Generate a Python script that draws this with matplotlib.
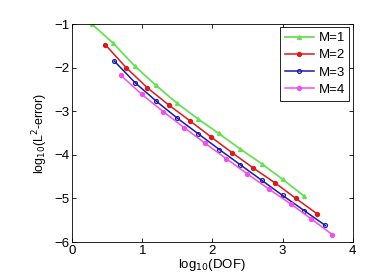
import matplotlib
matplotlib.use("Agg")
import matplotlib.pyplot as plt

# log10(DOF) vs log10(L2-error)
x_m1 = [0.28, 0.585, 0.89, 1.19, 1.49, 1.79, 2.09, 2.40, 2.70, 3.00, 3.31]
y_m1 = [-1.00, -1.44, -1.96, -2.40, -2.81, -3.17, -3.51, -3.87, -4.20, -4.56, -4.95]

x_m2 = [0.47, 0.77, 1.07, 1.38, 1.68, 1.98, 2.28, 2.58, 2.89, 3.19, 3.49]
y_m2 = [-1.47, -2.00, -2.46, -2.86, -3.22, -3.59, -3.95, -4.30, -4.64, -5.00, -5.35]

x_m3 = [0.60, 0.90, 1.20, 1.50, 1.80, 2.10, 2.40, 2.70, 3.00, 3.31, 3.61]
y_m3 = [-1.85, -2.35, -2.77, -3.16, -3.52, -3.88, -4.23, -4.58, -4.93, -5.28, -5.62]

x_m4 = [0.69, 0.99, 1.30, 1.60, 1.90, 2.20, 2.50, 2.81, 3.12, 3.41, 3.71]
y_m4 = [-2.17, -2.61, -3.01, -3.38, -3.74, -4.09, -4.44, -4.79, -5.13, -5.47, -5.83]

labels = ["M=1", "M=2", "M=3", "M=4"]
xticks = [0, 1, 2, 3, 4]
yticks = [-6, -5, -4, -3, -2, -1]

plt.rcParams["font.family"] = ["Liberation Sans", "DejaVu Sans"]

fig = plt.figure(figsize=(3.88, 2.76), dpi=100)
ax = fig.add_axes([0.186, 0.123, 0.723, 0.790])

ax.plot(x_m1, y_m1, color="#66e055", lw=1.3, marker="^", ms=2.8,
        mfc="#66e055", mec="#66e055", label=labels[0])
ax.plot(x_m2, y_m2, color="#e01818", lw=1.1, marker="o", ms=2.8,
        mfc="#e01818", mec="#e01818", label=labels[1])
ax.plot(x_m3, y_m3, color="#1a1aa8", lw=1.1, marker="o", ms=2.8,
        mfc="none", mec="#1a1aa8", mew=0.9, label=labels[2])
ax.plot(x_m4, y_m4, color="#f04ef0", lw=1.1, marker="o", ms=2.8,
        mfc="#f04ef0", mec="#f04ef0", label=labels[3])

ax.set_xlim(0, 4)
ax.set_ylim(-6, -1)
ax.set_xticks(xticks)
ax.set_yticks(yticks)
ax.tick_params(direction="in", top=True, right=True, labelsize=9.5,
               length=3, width=0.6, pad=2)
for s in ax.spines.values():
    s.set_linewidth(0.6)

ax.set_xlabel(r"log$_{10}$(DOF)", fontsize=9.5, labelpad=0)
ax.set_ylabel(r"log$_{10}$(L$^2$-error)", fontsize=9, labelpad=3)

leg = ax.legend(loc="upper right", fontsize=9.5, handlelength=2.2,
                borderaxespad=0.25, labelspacing=0.38, fancybox=False,
                framealpha=1, edgecolor="black", borderpad=0.35,
                handletextpad=0.35)
leg.get_frame().set_linewidth(0.6)

fig.savefig("out.png", dpi=100)
